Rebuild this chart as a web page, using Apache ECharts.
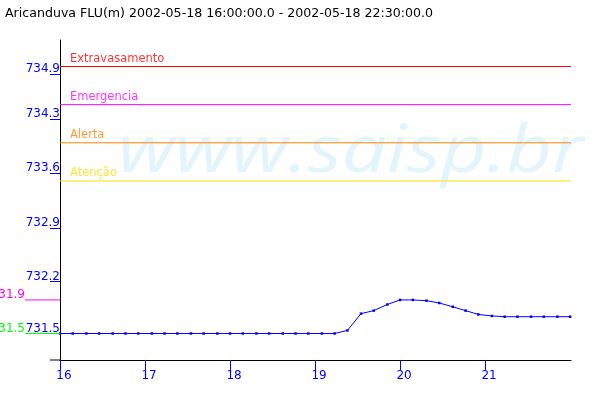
<!DOCTYPE html>
<html>
<head>
<meta charset="utf-8">
<script src="https://cdn.jsdelivr.net/npm/echarts@6/dist/echarts.min.js"></script>
<style>html,body{margin:0;padding:0;background:#fff}#c{width:600px;height:400px}</style>
</head>
<body>
<div id="c"></div>
<script>
// ---- data ----
const titleText = 'Aricanduva FLU(m) 2002-05-18 16:00:00.0 - 2002-05-18 22:30:00.0';
const hours = [16.00, 16.15, 16.31, 16.46, 16.62, 16.77, 16.92, 17.08, 17.23, 17.38,
               17.54, 17.69, 17.85, 18.00, 18.15, 18.31, 18.46, 18.62, 18.77, 18.92,
               19.08, 19.23, 19.38, 19.54, 19.69, 19.85, 20.00, 20.15, 20.31, 20.46,
               20.62, 20.77, 20.92, 21.08, 21.23, 21.38, 21.54, 21.69, 21.85, 22.00];
const levels = [731.50, 731.50, 731.50, 731.50, 731.50, 731.50, 731.50, 731.50, 731.50, 731.50,
                731.50, 731.50, 731.50, 731.50, 731.50, 731.50, 731.50, 731.50, 731.50, 731.50,
                731.50, 731.50, 731.54, 731.76, 731.80, 731.88, 731.94, 731.94, 731.93, 731.90,
                731.85, 731.80, 731.75, 731.73, 731.72, 731.72, 731.72, 731.72, 731.72, 731.72];
const xTickValues = [16, 17, 18, 19, 20, 21];
const yTickValues = [731.50, 732.18, 732.88, 733.60, 734.31, 734.90];
const yTickLabels = ['731.5', '732.2', '732.9', '733.6', '734.3', '734.9'];
const thresholdNames = ['Extravasamento', 'Emergencia', 'Alerta', 'Atenção'];
const thresholdValues = [735.0, 734.5, 734.0, 733.5];

// ---- styling ----
const thresholdColors = ['#ff0000', '#ff00ff', '#ff8000', '#ffdc00'];
const FONT = '"DejaVu Sans", sans-serif';
const BLUE = '#0000ff';
const X_MIN = 16, X_MAX = 22.01;
const Y_MIN = 731.1526, Y_MAX = 735.3474;

const chart = echarts.init(document.getElementById('c'), null, {renderer: 'canvas'});
const seriesData = hours.map((h, i) => [h, levels[i]]);

const thresholdSeries = thresholdNames.map((n, i) => ({
  type: 'line', name: n, silent: true, z: 3,
  symbol: 'none', showSymbol: false,
  lineStyle: {color: thresholdColors[i], width: 1, type: 'solid'},
  itemStyle: {color: thresholdColors[i]},
  emphasis: {disabled: true},
  data: [[X_MIN, thresholdValues[i]], [X_MAX, thresholdValues[i]]]
}));

const thresholdLabels = {
  type: 'scatter', name: 'labels', silent: true, z: 4,
  symbol: 'rect', symbolSize: 1,
  itemStyle: {color: 'rgba(0,0,0,0)'},
  emphasis: {disabled: true},
  data: thresholdNames.map((n, i) => ({
    value: [X_MIN, thresholdValues[i]],
    label: {
      show: true, position: 'top', align: 'left', distance: 1, offset: [10, 0],
      formatter: n, color: thresholdColors[i], fontFamily: FONT, fontSize: 11.5
    }
  }))
};

chart.setOption({
  animation: false,
  backgroundColor: '#ffffff',
  title: {
    text: titleText, left: 0, top: 2,
    textStyle: {fontFamily: FONT, fontSize: 12.6, fontWeight: 'normal', color: '#000'}
  },
  grid: {left: 60, right: 29, top: 40, bottom: 40},
  xAxis: {
    type: 'value', min: X_MIN, max: X_MAX,
    axisLine: {lineStyle: {color: '#000', width: 1}},
    axisTick: {show: true, length: 10, lineStyle: {color: BLUE}, customValues: xTickValues},
    axisLabel: {
      customValues: xTickValues, color: BLUE, fontFamily: FONT, fontSize: 12,
      margin: 10, padding: [0, 0, 0, 8]
    },
    splitLine: {show: false}
  },
  yAxis: {
    type: 'value', min: Y_MIN, max: Y_MAX,
    axisLine: {show: true, lineStyle: {color: '#000', width: 1}},
    axisTick: {show: true, length: 10, lineStyle: {color: BLUE}, customValues: yTickValues},
    axisLabel: {
      customValues: yTickValues, color: BLUE, fontFamily: FONT, fontSize: 12,
      margin: 0, verticalAlign: 'bottom', lineHeight: 10,
      formatter: function (v) {
        let best = 0;
        yTickValues.forEach((t, i) => { if (Math.abs(t - v) < Math.abs(yTickValues[best] - v)) best = i; });
        return yTickLabels[best];
      }
    },
    splitLine: {show: false}
  },
  series: thresholdSeries.concat([thresholdLabels, {
    type: 'line',
    name: 'FLU',
    data: seriesData,
    showSymbol: true, showAllSymbol: true,
    symbol: 'rect', symbolSize: 2.5,
    itemStyle: {color: BLUE},
    lineStyle: {color: BLUE, width: 1},
    z: 5
  }])
});

// watermark, axis stub and min/max markers, placed through the chart's scales
const yMax = Math.max.apply(null, levels);
const yMin = Math.min.apply(null, levels);
const pMax = chart.convertToPixel({gridIndex: 0}, [X_MIN, yMax]);
const pMin = chart.convertToPixel({gridIndex: 0}, [X_MIN, yMin]);
const pOrigin = chart.convertToPixel({gridIndex: 0}, [X_MIN, Y_MIN]);
const markers = [
  {v: yMax, p: pMax, color: '#ff00ff'},
  {v: yMin, p: pMin, color: '#00ff00'}
];
const graphics = [
  {
    type: 'text', x: 118, y: 120, z: -10, silent: true, scaleX: 1.2,
    style: {text: 'www.saisp.br', fill: '#e2f5fd', font: 'italic 66px "Open Sans", sans-serif'}
  },
  {
    type: 'line', z: 10, silent: true,
    shape: {x1: pOrigin[0] - 10, y1: pOrigin[1], x2: pOrigin[0], y2: pOrigin[1]},
    style: {stroke: '#000', lineWidth: 1}
  }
];
markers.forEach(m => {
  graphics.push({
    type: 'line', z: 10, silent: true,
    shape: {x1: m.p[0] - 35, y1: m.p[1], x2: m.p[0], y2: m.p[1]},
    style: {stroke: m.color, lineWidth: 1}
  });
  graphics.push({
    type: 'text', z: 10, silent: true, x: m.p[0] - 35, y: m.p[1] + 1,
    style: {text: m.v.toFixed(1), fill: m.color, font: '12px ' + FONT,
            align: 'right', verticalAlign: 'bottom'}
  });
});
chart.setOption({graphic: graphics});
</script>
</body>
</html>
